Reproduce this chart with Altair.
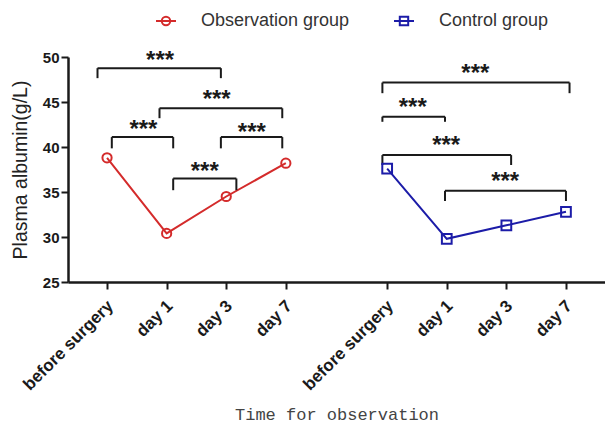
import altair as alt
import pandas as pd

# ---------------- data ----------------
x_labels = ["before surgery", "day 1", "day 3", "day 7"]
groups = ["Observation group", "Control group"]
obs_x = [1.0, 2.0, 3.0, 4.0]
ctl_x = [5.7, 6.7, 7.7, 8.7]
obs_vals = [38.8, 30.4, 34.5, 38.2]
ctl_vals = [37.6, 29.8, 31.3, 32.8]

# significance brackets
br_x1 = [0.84, 1.88, 1.08, 2.91, 2.11, 5.62, 5.62, 5.62, 6.67]
br_x2 = [2.91, 3.94, 2.11, 3.94, 3.17, 8.76, 6.67, 7.78, 8.70]
br_top = [48.76, 44.3, 41.1, 41.1, 36.5, 47.16, 43.37, 39.1, 35.13]
br_legL = [47.65, 43.2, 39.85, 39.85, 35.2, 45.98, 42.8, 38.0, 34.0]
br_legR = [47.65, 43.2, 39.85, 39.85, 35.2, 45.98, 42.8, 38.0, 34.0]
star_x = [1.89, 2.84, 1.61, 3.43, 2.64, 7.18, 6.13, 6.69, 7.68]
star_y = [50.2, 45.9, 42.6, 42.2, 37.9, 48.76, 45.0, 40.8, 36.8]
star_text = ["***"] * 9

RED = "#d42b2b"
BLUE = "#1c1ca8"
INK = "#1a1a1a"

obs_df = pd.DataFrame({"x": obs_x, "y": obs_vals})
ctl_df = pd.DataFrame({"x": ctl_x, "y": ctl_vals})
br_df = pd.DataFrame({"x1": br_x1, "x2": br_x2, "top": br_top,
                      "legL": br_legL, "legR": br_legR})
star_df = pd.DataFrame({"x": star_x, "y": star_y, "t": star_text})
leg_df = pd.DataFrame({"x": [-5.0, -5.0], "y": [30.0, 30.0], "group": groups})

tick_vals = obs_x + ctl_x
all_labels = x_labels + x_labels
expr = "''"
for v, lab in reversed(list(zip(tick_vals, all_labels))):
    expr = f"abs(datum.value - {v}) < 0.05 ? '{lab}' : ({expr})"

xscale = alt.Scale(domain=[0.345, 9.355], nice=False, zero=False)
yscale = alt.Scale(domain=[25, 50], nice=False, zero=False)

x_axis = alt.Axis(
    values=tick_vals, labelExpr=expr, labelAngle=-45, labelAlign="right",
    labelBaseline="middle", labelFont="Liberation Sans", labelFontWeight="bold",
    labelFontSize=17, labelColor=INK, labelPadding=14, labelOffset=3,
    tickSize=7, tickWidth=2,
    tickColor=INK, domainColor=INK, domainWidth=2.5, grid=False,
    title="Time for observation", titleFont="Liberation Mono",
    titleFontSize=17, titleFontWeight="normal", titleColor="#444444",
    titleY=132, titleBaseline="middle", labelOverlap=False, labelBound=False,
)
y_axis = alt.Axis(
    values=[25, 30, 35, 40, 45, 50], labelFont="Liberation Sans",
    labelFontWeight="bold", labelFontSize=15, labelColor=INK, labelPadding=2,
    tickSize=7, tickWidth=2, tickColor=INK, domainColor=INK, domainWidth=2.5,
    grid=False, title="Plasma albumin(g/L)",
    titleFont="Liberation Sans", titleFontSize=19.5,
    titleFontWeight="normal", titleColor="#222222", titleX=-48,
    titleBaseline="middle",
)

nx = lambda f: alt.X(f, type="quantitative", scale=xscale, axis=x_axis,
                     title="Time for observation")
ny = lambda f: alt.Y(f, type="quantitative", scale=yscale, axis=y_axis,
                     title="Plasma albumin(g/L)")

obs_line = alt.Chart(obs_df).mark_line(color=RED, strokeWidth=2).encode(x=nx("x"), y=ny("y"))
obs_pts = alt.Chart(obs_df).mark_point(color=RED, shape="circle", filled=False,
                                       size=85, strokeWidth=2, opacity=1).encode(x=nx("x"), y=ny("y"))
ctl_line = alt.Chart(ctl_df).mark_line(color=BLUE, strokeWidth=2).encode(x=nx("x"), y=ny("y"))
ctl_pts = alt.Chart(ctl_df).mark_point(color=BLUE, shape="square", filled=False,
                                       size=95, strokeWidth=2, opacity=1).encode(x=nx("x"), y=ny("y"))

hbar = alt.Chart(br_df).mark_rule(color=INK, strokeWidth=2).encode(
    x=nx("x1"), x2="x2", y=ny("top"))
legl = alt.Chart(br_df).mark_rule(color=INK, strokeWidth=2).encode(
    x=nx("x1"), y=ny("top"), y2="legL")
legr = alt.Chart(br_df).mark_rule(color=INK, strokeWidth=2).encode(
    x=nx("x2"), y=ny("top"), y2="legR")
stars = alt.Chart(star_df).mark_text(font="Liberation Sans", fontWeight="bold",
                                     fontSize=24, color=INK, baseline="middle",
                                     dy=6).encode(x=nx("x"), y=ny("y"), text="t:N")

circ = "M-1,0L1,0M-0.42,0A0.42,0.42,0,1,0,0.42,0A0.42,0.42,0,1,0,-0.42,0"
sq = "M-1,0L1,0M-0.42,-0.42L0.42,-0.42L0.42,0.42L-0.42,0.42Z"
leg_def = alt.Legend(title=None, orient="none", direction="horizontal",
                     legendX=87, legendY=-47, symbolSize=400,
                     symbolStrokeWidth=2, labelOffset=24,
                     columnPadding=40, labelFont="Liberation Sans",
                     labelFontSize=18, labelColor="#333333", labelLimit=300)
legend_layer = alt.Chart(leg_df).mark_point(filled=False, clip=True, size=400,
                                            strokeWidth=2, opacity=1).encode(
    x=nx("x"), y=ny("y"),
    color=alt.Color("group:N", scale=alt.Scale(domain=groups, range=[RED, BLUE]),
                    legend=leg_def),
    shape=alt.Shape("group:N", scale=alt.Scale(domain=groups, range=[circ, sq]),
                    legend=leg_def),
)

chart = alt.layer(
    obs_line, ctl_line, hbar, legl, legr, stars, obs_pts, ctl_pts, legend_layer
).properties(
    width=537, height=225,
    autosize=alt.AutoSizeParams(type="none"),
    padding={"left": 68, "top": 57, "right": 0, "bottom": 142},
    background="white",
).configure_view(stroke=None)

chart.save("out.html", embed_options={"renderer": "svg", "actions": False})
